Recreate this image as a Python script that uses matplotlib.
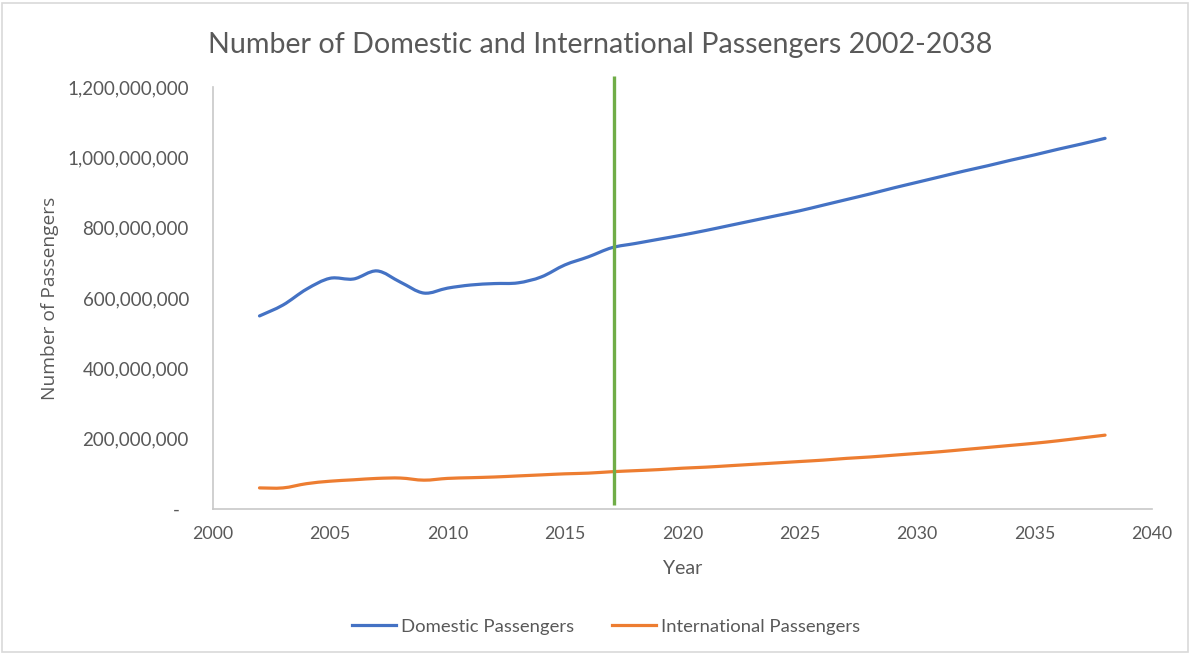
import matplotlib.pyplot as plt
from matplotlib.path import Path
from matplotlib.patches import PathPatch, Rectangle
from matplotlib.lines import Line2D
from matplotlib.ticker import FuncFormatter
import numpy as np

years = list(range(2002, 2039))

# millions of passengers
domestic_m = [549, 580, 625, 656, 654, 677, 645, 614, 628, 637,
              641, 643, 660, 694, 717, 743, 755, 767, 779, 792,
              806, 820, 834, 848, 864, 880, 896, 913, 929, 945,
              961, 976, 992, 1007, 1023, 1038, 1054]
international_m = [60, 60, 72, 79, 83, 87, 88, 82, 87, 89,
                   91, 94, 97, 100, 102, 106, 109, 112, 116, 119,
                   123, 127, 131, 135, 139, 144, 148, 153, 158, 163,
                   169, 175, 181, 187, 194, 202, 210]

forecast_start = 2017.1

title = "Number of Domestic and International Passengers 2002-2038"
labels = ["Domestic Passengers", "International Passengers"]
colors = ["#4472C4", "#ED7D31"]


def smooth_path(x, y):
    # Excel-style smoothed line: cubic bezier through every point
    pts = np.column_stack([x, y]).astype(float)
    n = len(pts)
    verts = [pts[0]]
    codes = [Path.MOVETO]
    for i in range(n - 1):
        p0 = pts[i - 1] if i > 0 else pts[i]
        p1 = pts[i]
        p2 = pts[i + 1]
        p3 = pts[i + 2] if i + 2 < n else pts[i + 1]
        verts += [p1 + (p2 - p0) / 6, p2 - (p3 - p1) / 6, p2]
        codes += [Path.CURVE4] * 3
    return Path(verts, codes)


def fmt(v, _):
    if abs(v) < 1:
        return "-  "
    return f"{v:,.0f}"


fig = plt.figure(figsize=(11.9, 6.55), dpi=100)
ax = fig.add_axes([0.1786, 0.2229, 0.7895, 0.6443])

tick_font = "Lato"
grey = "#595959"

for vals, col in zip([domestic_m, international_m], colors):
    y = np.array(vals) * 1e6
    patch = PathPatch(smooth_path(years, y), facecolor="none",
                      edgecolor=col, lw=2.3, capstyle="round",
                      joinstyle="round", transform=ax.transData)
    ax.add_patch(patch)

ax.plot([forecast_start, forecast_start], [0.01e9, 1.231e9],
        color="#70AD47", lw=2.4, clip_on=False, solid_capstyle="butt")

ax.set_xlim(2000, 2040)
ax.set_ylim(0, 1.2e9)
ax.set_xticks(range(2000, 2041, 5))
ax.set_yticks(np.arange(0, 1.21e9, 2e8))
ax.yaxis.set_major_formatter(FuncFormatter(fmt))

for s in ["top", "right"]:
    ax.spines[s].set_visible(False)
for s in ["left", "bottom"]:
    ax.spines[s].set_color("#c8c8c8")
    ax.spines[s].set_linewidth(1.2)

ax.tick_params(length=0, labelsize=13, labelcolor=grey)
ax.tick_params(axis="x", labelsize=12.8, pad=12)
ax.tick_params(axis="y", labelsize=13.5, pad=17)
for lab in ax.get_xticklabels() + ax.get_yticklabels():
    lab.set_fontfamily(tick_font)

ax.set_xlabel("Year", fontsize=14, color=grey, family=tick_font, labelpad=13)
ax.set_ylabel("Number of Passengers", fontsize=13.8, color=grey,
              family="Open Sans", labelpad=6)

fig.text(0.504, 0.932, title, ha="center", va="center", fontsize=20.6,
         color=grey, family=tick_font)

handles = [Line2D([], [], color=c, lw=2.3) for c in colors]
fig.legend(handles, labels, loc="center", bbox_to_anchor=(0.509, 0.043),
           ncol=2, frameon=False, handlelength=2.4, handletextpad=0.25,
           columnspacing=2.05,
           prop={"family": tick_font, "size": 13.3})
for t in fig.legends[0].get_texts():
    t.set_color(grey)

fig.patches.append(Rectangle((0.002, 0.004), 0.996, 0.992,
                             transform=fig.transFigure, fill=False,
                             edgecolor="#d9d9d9", lw=1.2))

fig.savefig("out.png", dpi=100)
